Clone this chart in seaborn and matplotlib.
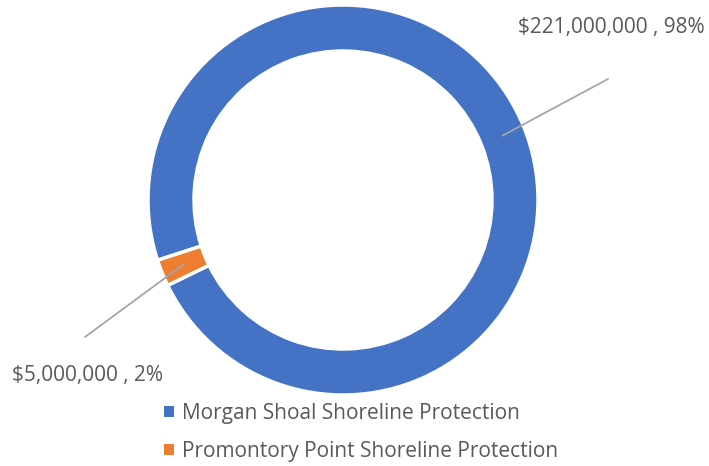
import numpy as np
import matplotlib.pyplot as plt
import seaborn as sns

# data
projects = ["Morgan Shoal Shoreline Protection", "Promontory Point Shoreline Protection"]
amounts = [221000000, 5000000]
label_texts = ["$221,000,000 , 98%", "$5,000,000 , 2%"]
colors = ["#4472C4", "#ED7D31"]

sns.set_theme(style="white")
plt.rcParams['font.family'] = ['Open Sans', 'DejaVu Sans']

W, H = 709, 466
fig = plt.figure(figsize=(W / 100, H / 100), dpi=100)
ax = fig.add_axes([0, 0, 1, 1])

cx, cy, R = 343, H - 200, 195
ring = 46

wedges, _ = ax.pie(amounts, colors=colors, startangle=198, counterclock=False,
                   center=(cx, cy), radius=R, frame=True,
                   wedgeprops=dict(width=ring, edgecolor='white', linewidth=2.5))
ax.set_xlim(0, W)
ax.set_ylim(0, H)
ax.set_aspect('equal')
ax.axis('off')

# leader lines and labels
line_ends = [(608, H - 79), (85, H - 337)]
text_pos = [(611, H - 27), (87, H - 376)]
for w, end, tp, txt in zip(wedges, line_ends, text_pos, label_texts):
    mid = np.deg2rad((w.theta1 + w.theta2) / 2)
    r_mid = R - ring / 2
    ax.plot([cx + r_mid * np.cos(mid), end[0]], [cy + r_mid * np.sin(mid), end[1]],
            color="#A6A6A6", linewidth=1.3)
    ax.text(tp[0], tp[1], txt, ha='center', va='center', fontsize=15, color="#595959")

leg = ax.legend(wedges, projects, loc='upper left', bbox_to_anchor=(160 / W, 1 - 399 / H),
                frameon=False, fontsize=15, handlelength=0.45, handleheight=0.45,
                handletextpad=0.4, labelspacing=0.8, labelcolor="#595959",
                borderaxespad=0, borderpad=0.2)
for h in leg.legend_handles:
    h.set_edgecolor('none')

fig.savefig("out.png", dpi=100)
